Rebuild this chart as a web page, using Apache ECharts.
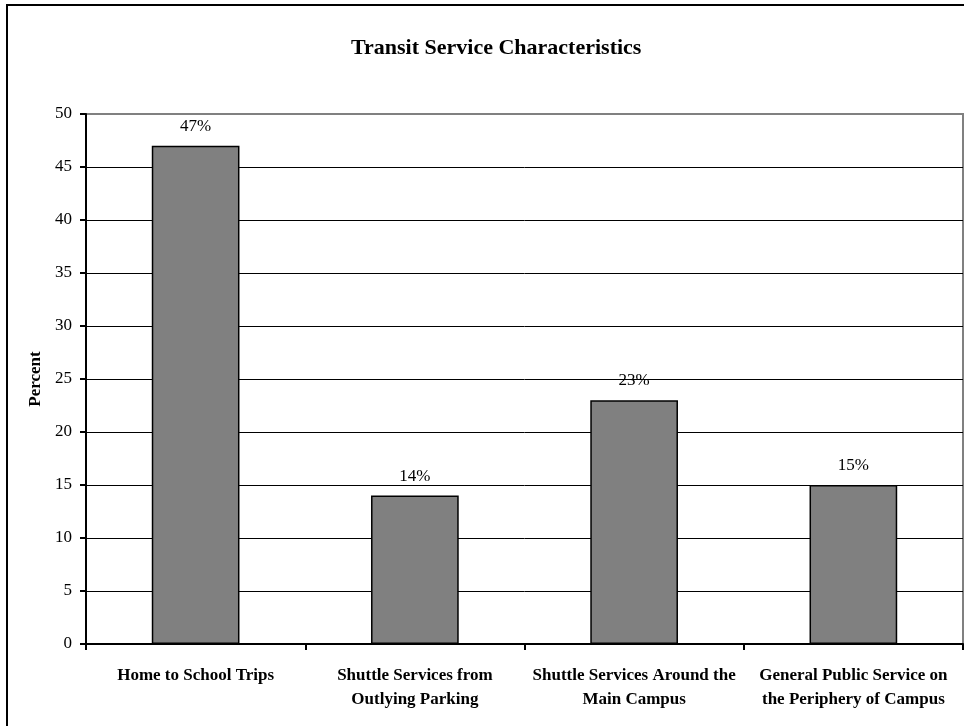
<!DOCTYPE html>
<html>
<head>
<meta charset="utf-8">
<script src="https://cdn.jsdelivr.net/npm/echarts@6/dist/echarts.min.js"></script>
<style>
  html, body { margin: 0; padding: 0; background: #fff; }
  #chart { width: 964px; height: 726px; }
</style>
</head>
<body>
<div id="chart"></div>
<script>
// Share of responses for each transit service type
const categories = [
  'Home to School Trips',
  'Shuttle Services from\nOutlying Parking',
  'Shuttle Services Around the\nMain Campus',
  'General Public Service on\nthe Periphery of Campus'
];
const percentValues = [47, 14, 23, 15];
const yTicks = { min: 0, max: 50, step: 5 };

const serif = '"Liberation Serif", "Times New Roman", serif';

const chart = echarts.init(document.getElementById('chart'), null, { renderer: 'canvas' });
chart.setOption({
  backgroundColor: '#ffffff',
  animation: false,
  title: {
    text: 'Transit Service Characteristics',
    left: 346,
    top: 32,
    textStyle: { fontFamily: serif, fontWeight: 'bold', fontSize: 22, color: '#000' }
  },
  graphic: [{
    type: 'rect',
    shape: { x: 7, y: 5, width: 1000, height: 1000 },
    style: { fill: 'none', stroke: '#000', lineWidth: 2 },
    silent: true
  }],
  grid: {
    left: 86, top: 114, right: 1, bottom: 82,
    show: true, borderColor: '#808080', borderWidth: 2, backgroundColor: 'transparent'
  },
  xAxis: {
    type: 'category',
    data: categories,
    axisLine: { lineStyle: { color: '#000', width: 2 } },
    axisTick: { show: true, length: 6, lineStyle: { color: '#000', width: 2 } },
    axisLabel: {
      margin: 20, interval: 0,
      fontFamily: serif, fontWeight: 'bold', fontSize: 17, color: '#000', lineHeight: 24
    },
    splitLine: { show: false }
  },
  yAxis: {
    type: 'value',
    min: yTicks.min, max: yTicks.max, interval: yTicks.step,
    name: 'Percent',
    nameLocation: 'middle',
    nameGap: 39,
    nameRotate: 90,
    nameTextStyle: { fontFamily: serif, fontWeight: 'bold', fontSize: 17, color: '#000' },
    axisLine: { show: true, lineStyle: { color: '#000', width: 2 } },
    axisTick: { show: true, length: 6, lineStyle: { color: '#000', width: 2 } },
    axisLabel: { margin: 14, fontFamily: serif, fontSize: 17, color: '#000' },
    splitLine: { show: true, showMaxLine: false, lineStyle: { color: '#000', width: 1 } }
  },
  series: [{
    type: 'bar',
    data: percentValues,
    barWidth: '40%',
    itemStyle: { color: '#808080', borderColor: '#000', borderWidth: 1.5 },
    label: {
      show: true, position: 'top', distance: 11,
      formatter: p => p.value + '%',
      fontFamily: serif, fontSize: 17, color: '#000'
    }
  }]
});
</script>
</body>
</html>
